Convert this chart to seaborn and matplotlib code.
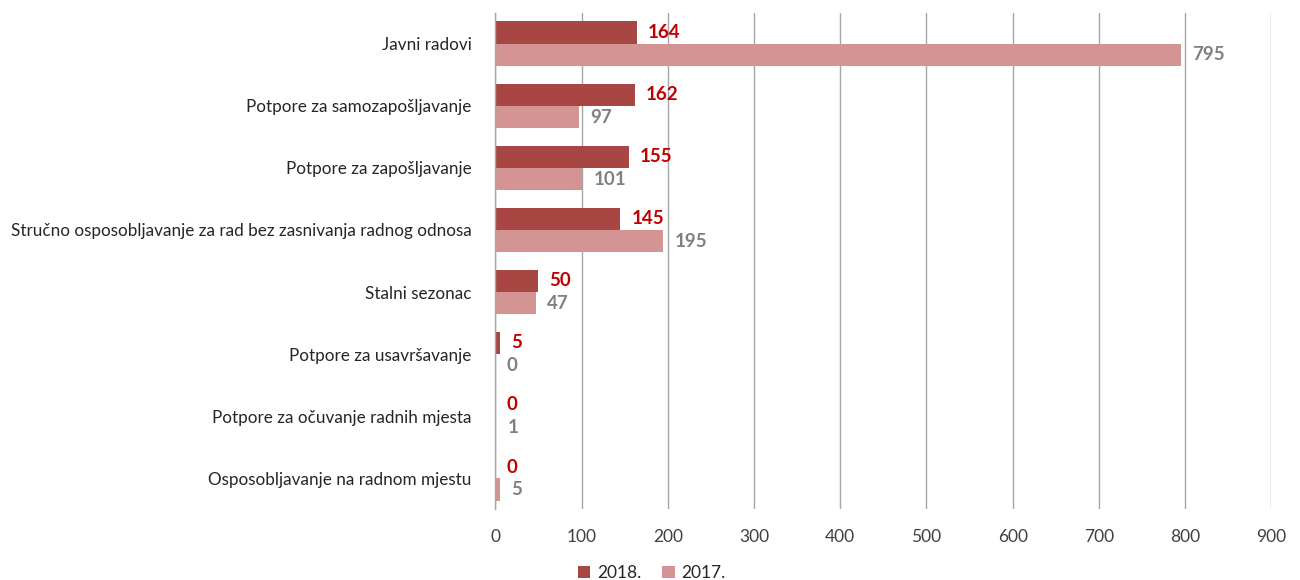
import matplotlib
matplotlib.use("Agg")
import matplotlib.pyplot as plt
import seaborn as sns
import pandas as pd

categories = [
    "Javni radovi",
    "Potpore za samozapošljavanje",
    "Potpore za zapošljavanje",
    "Stručno osposobljavanje za rad bez zasnivanja radnog odnosa",
    "Stalni sezonac",
    "Potpore za usavršavanje",
    "Potpore za očuvanje radnih mjesta",
    "Osposobljavanje na radnom mjestu",
]
values_2018 = [164, 162, 155, 145, 50, 5, 0, 0]
values_2017 = [795, 97, 101, 195, 47, 0, 1, 5]
series = ["2018.", "2017."]
x_ticks = [0, 100, 200, 300, 400, 500, 600, 700, 800, 900]

sns.set_theme(style="white")
plt.rcParams["font.family"] = ["Lato", "DejaVu Sans"]

df = pd.DataFrame({
    "Kategorija": categories * 2,
    "Vrijednost": values_2018 + values_2017,
    "Godina": [series[0]] * len(categories) + [series[1]] * len(categories),
})

colors = {"2018.": "#A84644", "2017.": "#D49494"}
label_colors = {"2018.": "#C00000", "2017.": "#808080"}

fig = plt.figure(figsize=(13, 5.8), dpi=100)
ax = fig.add_axes([0.381, 0.122, 0.597, 0.856])

sns.barplot(data=df, y="Kategorija", x="Vrijednost", hue="Godina",
            hue_order=series, palette=colors, orient="h", width=0.72,
            ax=ax, legend=True, saturation=1, linewidth=0, edgecolor="none")

for container, name in zip(ax.containers, series):
    ax.bar_label(container, labels=[f"{int(v)}" for v in container.datavalues],
                 padding=8, color=label_colors[name], fontweight="bold",
                 fontsize=13.5)

ax.set_xlim(0, 900)
ax.set_xticks(x_ticks)
ax.set_xticklabels([str(t) for t in x_ticks], fontsize=12.5, color="#404040")
ax.tick_params(axis="y", labelsize=12.3, length=0, pad=17, labelcolor="#262626")
ax.tick_params(axis="x", length=0, pad=14)
ax.set_xlabel("")
ax.set_ylabel("")
ax.xaxis.grid(True, color="#A6A6A6", linewidth=1)
ax.set_axisbelow(True)
for s in ["top", "right", "bottom"]:
    ax.spines[s].set_visible(False)
ax.spines["left"].set_color("#A6A6A6")
ax.spines["left"].set_linewidth(1)
ax.set_ylim(7.5, -0.5)

handles, labels = ax.get_legend_handles_labels()
ax.legend_.remove()
fig.legend(handles, labels, loc="center", bbox_to_anchor=(652 / 1300, 1 - 573 / 580),
           ncol=2, frameon=False, fontsize=12.5, handlelength=0.7, handleheight=0.7,
           columnspacing=1.2, handletextpad=0.4)

fig.savefig("out.png", dpi=100)
